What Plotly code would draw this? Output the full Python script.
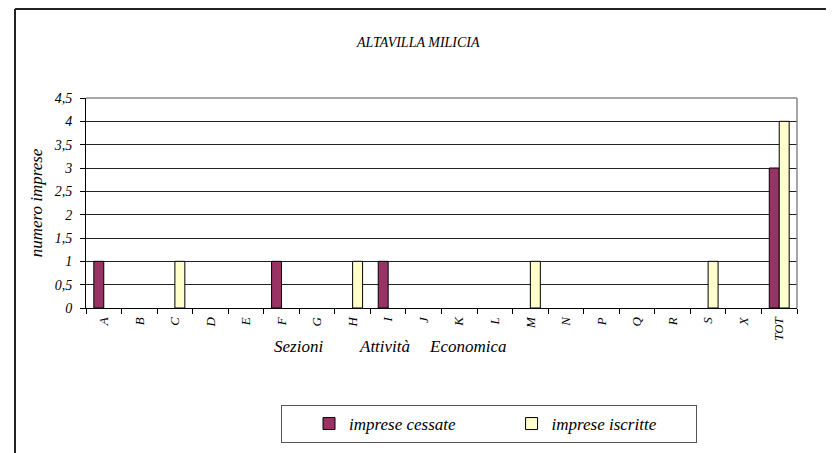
import plotly.graph_objects as go

categories = ["A", "B", "C", "D", "E", "F", "G", "H", "I", "J", "K", "L",
              "M", "N", "P", "Q", "R", "S", "X", "TOT"]
cessate = [1, 0, 0, 0, 0, 1, 0, 0, 1, 0, 0, 0, 0, 0, 0, 0, 0, 0, 0, 3]
iscritte = [0, 0, 1, 0, 0, 0, 0, 1, 0, 0, 0, 0, 1, 0, 0, 0, 0, 1, 0, 4]
y_ticks = [0, 0.5, 1, 1.5, 2, 2.5, 3, 3.5, 4, 4.5]

W, H = 834, 453
OFF = 8  # default body margin of the page shifts the figure by 8px
# plot area as it should appear on screen
SX0, SX1, SY0, SY1 = 86, 797, 98, 308
L, T = SX0 - OFF, SY0 - OFF
R, B = W - (SX1 - OFF), H - (SY1 - OFF)
pw, ph = SX1 - SX0, SY1 - SY0

FONT = "Liberation Serif"
NB = "&nbsp;"


def px_x(x):
    return (x - SX0) / pw


def px_y(y):
    return (SY1 - y) / ph


def shown(vals):
    # empty sections get no bar at all (as in the original sheet)
    return [v if v else None for v in vals]


fig = go.Figure()
fig.add_trace(go.Bar(
    x=categories, y=shown(cessate), name="imprese cessate" + NB * 12,
    marker=dict(color="#993366", line=dict(color="black", width=1)),
))
fig.add_trace(go.Bar(
    x=categories, y=shown(iscritte), name="imprese iscritte" + NB * 8,
    marker=dict(color="#FFFFCC", line=dict(color="black", width=1)),
))

fig.update_layout(
    width=W, height=H,
    margin=dict(l=L, r=R, t=T, b=B, autoexpand=False),
    paper_bgcolor="white", plot_bgcolor="white",
    separators=",.",
    font=dict(family=FONT, color="black", style="italic"),
    barmode="group", bargap=0.44, bargroupgap=0,
    showlegend=True,
    legend=dict(
        orientation="h", x=px_x(281), xanchor="left", y=px_y(405), yanchor="top",
        bordercolor="#555", borderwidth=1, bgcolor="white",
        font=dict(family=FONT, size=17, color="black", style="italic"),
        title=dict(text=NB * 4, side="left", font=dict(family=FONT, size=17)),
        itemwidth=30,
    ),
    xaxis=dict(
        type="category", tickangle=-90, ticks="outside", tickson="boundaries",
        ticklen=5, tickcolor="black", showline=True, linecolor="black",
        mirror=False, showgrid=False, ticklabelstandoff=3, automargin=False,
        tickfont=dict(family=FONT, size=13, color="black", style="italic"),
    ),
    yaxis=dict(
        range=[0, 4.5], tickvals=y_ticks, ticks="outside", ticklen=5,
        tickcolor="black", showline=True, linecolor="black", automargin=False,
        showgrid=True, gridcolor="#222", gridwidth=1, ticklabelstandoff=5,
        tickfont=dict(family=FONT, size=14, color="black", style="italic"),
        title=dict(text="numero imprese",
                   font=dict(family=FONT, size=17, style="italic"), standoff=6),
        zeroline=False,
    ),
)

# plot-area frame (top and right in gray)
fig.add_shape(type="line", xref="paper", yref="paper", x0=0, x1=1, y0=1, y1=1,
              line=dict(color="#888", width=1.5))
fig.add_shape(type="line", xref="paper", yref="paper", x0=1, x1=1, y0=0, y1=1,
              line=dict(color="#888", width=1.5))

# chart border (left and top)
fig.add_shape(type="line", xref="paper", yref="paper",
              x0=px_x(15), x1=px_x(W + 10), y0=px_y(9), y1=px_y(9),
              line=dict(color="#222", width=2))
fig.add_shape(type="line", xref="paper", yref="paper",
              x0=px_x(15), x1=px_x(15), y0=px_y(9), y1=px_y(H + 10),
              line=dict(color="#222", width=2))

fig.add_annotation(text="ALTAVILLA MILICIA", xref="paper", yref="paper",
                   x=px_x(418), y=px_y(42), xanchor="center", yanchor="middle",
                   showarrow=False,
                   font=dict(family=FONT, size=14, color="black", style="italic"))
for word, xpos in [("Sezioni", 272), ("Attività", 357), ("Economica", 427)]:
    fig.add_annotation(text=word, xref="paper", yref="paper",
                       x=px_x(xpos), y=px_y(346), xanchor="left", yanchor="middle",
                       showarrow=False,
                       font=dict(family=FONT, size=17, color="black", style="italic"))

fig.write_html("out.html")
